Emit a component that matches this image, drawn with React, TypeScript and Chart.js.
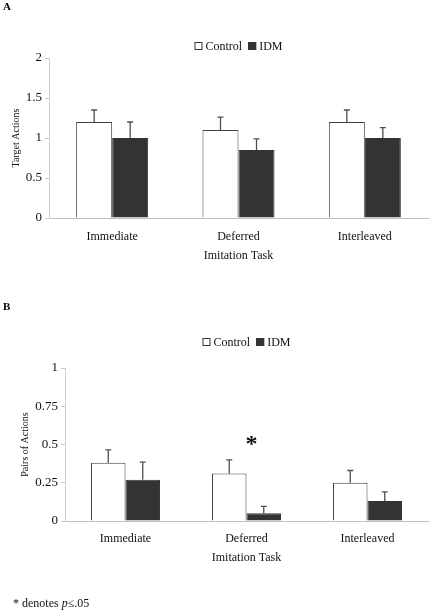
import React, { useEffect, useRef } from "react";
import { Chart, registerables } from "chart.js";

Chart.register(...registerables);

const categories = ["Immediate", "Deferred", "Interleaved"];
const seriesNames = ["Control", "IDM"];

const controlA = [1.2, 1.1, 1.2];
const idmA = [1.0, 0.85, 1.0];
const controlErrA = [0.15, 0.16, 0.15];
const idmErrA = [0.2, 0.14, 0.13];
const yTicksA = [0, 0.5, 1, 1.5, 2];

const controlB = [0.38, 0.31, 0.25];
const idmB = [0.27, 0.05, 0.13];
const controlErrB = [0.085, 0.09, 0.08];
const idmErrB = [0.115, 0.045, 0.06];
const yTicksB = [0, 0.25, 0.5, 0.75, 1];

const sigCategoryB = 1;
const sigLevelB = 0.46;

const SERIF = '"Liberation Serif", "Times New Roman", serif';

const overlayPlugin = {
  id: "overlay",
  afterDatasetsDraw(chart: any, _args: any, opts: any) {
    const ctx = chart.ctx;
    const ys = chart.scales.y;
    const xs = chart.scales.x;
    chart.data.datasets.forEach((ds: any, di: number) => {
      const meta = chart.getDatasetMeta(di);
      const errs = opts.errors[di];
      meta.data.forEach((bar: any, i: number) => {
        const v = ds.data[i];
        const top = ys.getPixelForValue(v + errs[i]);
        const x = bar.x;
        const by = bar.y;
        ctx.save();
        ctx.strokeStyle = "#505050";
        ctx.lineWidth = 1.3;
        ctx.beginPath();
        ctx.moveTo(x, by);
        ctx.lineTo(x, top);
        ctx.moveTo(x - 3, top);
        ctx.lineTo(x + 3, top);
        ctx.stroke();
        ctx.restore();
      });
    });

    // legend
    const ca = chart.chartArea;
    ctx.save();
    ctx.font = `${opts.legendSize}px ${SERIF}`;
    const box = 8;
    const gapBT = 3;
    const gapItems = 6;
    const widths = seriesNames.map((n) => ctx.measureText(n).width);
    const total = widths.reduce((a, b) => a + b, 0) + seriesNames.length * (box + gapBT) + gapItems * (seriesNames.length - 1);
    let x = (ca.left + ca.right) / 2 - total / 2;
    const cy = opts.legendY;
    seriesNames.forEach((n, i) => {
      const ds = chart.data.datasets[i];
      ctx.fillStyle = ds.backgroundColor;
      ctx.fillRect(x, cy - box / 2, box, box);
      ctx.strokeStyle = "#333";
      ctx.lineWidth = 1;
      ctx.strokeRect(x + 0.5, cy - box / 2 + 0.5, box - 1, box - 1);
      x += box + gapBT;
      ctx.fillStyle = "#111";
      ctx.textBaseline = "middle";
      ctx.textAlign = "left";
      ctx.fillText(n, x, cy + 1);
      x += widths[i] + gapItems;
    });
    ctx.restore();

    if (opts.star) {
      ctx.save();
      ctx.font = `bold 24px ${SERIF}`;
      ctx.fillStyle = "#111";
      ctx.textAlign = "center";
      ctx.textBaseline = "alphabetic";
      const sx = xs.getPixelForValue(opts.star.cat) + 5;
      const sy = ys.getPixelForValue(opts.star.level);
      ctx.fillText("*", sx, sy);
      ctx.restore();
    }
  },
};

type PanelProps = {
  height: number;
  control: number[];
  idm: number[];
  controlErr: number[];
  idmErr: number[];
  yTicks: number[];
  yTitle: string;
  yWidth: number;
  yTitlePad: number;
  padTop: number;
  padBottom: number;
  xHeight: number;
  xLabelPad: number;
  legendY: number;
  legendSize: number;
  star?: { cat: number; level: number };
};

function Panel(p: PanelProps) {
  const ref = useRef<HTMLCanvasElement>(null);
  useEffect(() => {
    const chart = new Chart(ref.current as HTMLCanvasElement, {
      type: "bar",
      data: {
        labels: categories,
        datasets: [
          {
            label: seriesNames[0],
            data: p.control,
            backgroundColor: "#ffffff",
            borderColor: "#404040",
            borderWidth: 1,
            categoryPercentage: 0.57,
            barPercentage: 1,
          },
          {
            label: seriesNames[1],
            data: p.idm,
            backgroundColor: "#333333",
            borderColor: "#333333",
            borderWidth: 1,
            categoryPercentage: 0.57,
            barPercentage: 1,
          },
        ],
      },
      options: {
        animation: false,
        responsive: false,
        maintainAspectRatio: false,
        layout: { padding: { top: p.padTop, right: 3, bottom: p.padBottom, left: 0 } },
        plugins: {
          legend: { display: false },
          tooltip: { enabled: false },
          overlay: {
            errors: [p.controlErr, p.idmErr],
            legendY: p.legendY,
            legendSize: p.legendSize,
            star: p.star,
          },
        } as any,
        scales: {
          x: {
            type: "category",
            grid: { display: false, drawTicks: false },
            border: { color: "#c0c0c0", width: 1 },
            ticks: { color: "#111", font: { family: SERIF, size: 12 }, padding: p.xLabelPad, maxRotation: 0 },
            title: { display: true, text: "Imitation Task", color: "#111", font: { family: SERIF, size: 12 }, padding: { top: 0, bottom: 0 } },
            afterFit: (s: any) => {
              s.height = p.xHeight;
            },
          },
          y: {
            min: p.yTicks[0],
            max: p.yTicks[p.yTicks.length - 1],
            afterBuildTicks: (s: any) => {
              s.ticks = p.yTicks.map((v) => ({ value: v }));
            },
            grid: { display: true, drawOnChartArea: false, drawTicks: true, tickLength: 4, color: "#c8c8c8" },
            border: { color: "#d0d0d0", width: 1 },
            ticks: { color: "#111", font: { family: SERIF, size: 13 }, padding: 3, callback: (v: any) => String(v) },
            title: { display: true, text: p.yTitle, color: "#111", font: { family: SERIF, size: 10 }, padding: { top: p.yTitlePad, bottom: 0 } },
            afterFit: (s: any) => {
              s.width = p.yWidth;
            },
          },
        },
      },
      plugins: [overlayPlugin],
    });
    return () => chart.destroy();
  }, []);
  return <canvas ref={ref} width={431} height={p.height} style={{ display: "block", width: 431, height: p.height }} />;
}

export default function App() {
  return (
    <div style={{ position: "absolute", left: 0, top: 0, width: 431, height: 611, background: "#fff", overflow: "hidden", fontFamily: SERIF }}>
      <div style={{ position: "absolute", left: 0, top: 0, width: 431, height: 300 }}>
        <Panel
          height={300}
          control={controlA}
          idm={idmA}
          controlErr={controlErrA}
          idmErr={idmErrA}
          yTicks={yTicksA}
          yTitle="Target Actions"
          yWidth={49}
          yTitlePad={10}
          padTop={58}
          padBottom={37}
          xHeight={45}
          xLabelPad={12}
          legendY={46}
          legendSize={12}
        />
        <div style={{ position: "absolute", left: 3, top: 0, fontWeight: "bold", fontSize: 11, lineHeight: "13px" }}>A</div>
      </div>
      <div style={{ position: "absolute", left: 0, top: 300, width: 431, height: 311 }}>
        <Panel
          height={311}
          control={controlB}
          idm={idmB}
          controlErr={controlErrB}
          idmErr={idmErrB}
          yTicks={yTicksB}
          yTitle="Pairs of Actions"
          yWidth={65}
          yTitlePad={19}
          padTop={68}
          padBottom={46}
          xHeight={44}
          xLabelPad={11}
          legendY={42}
          legendSize={12}
          star={{ cat: sigCategoryB, level: sigLevelB }}
        />
        <div style={{ position: "absolute", left: 3, top: 0, fontWeight: "bold", fontSize: 11, lineHeight: "13px" }}>B</div>
        <div style={{ position: "absolute", left: 13, top: 296, fontSize: 12, lineHeight: "14px", color: "#111" }}>
          * denotes <i>p</i>≤.05
        </div>
      </div>
    </div>
  );
}
